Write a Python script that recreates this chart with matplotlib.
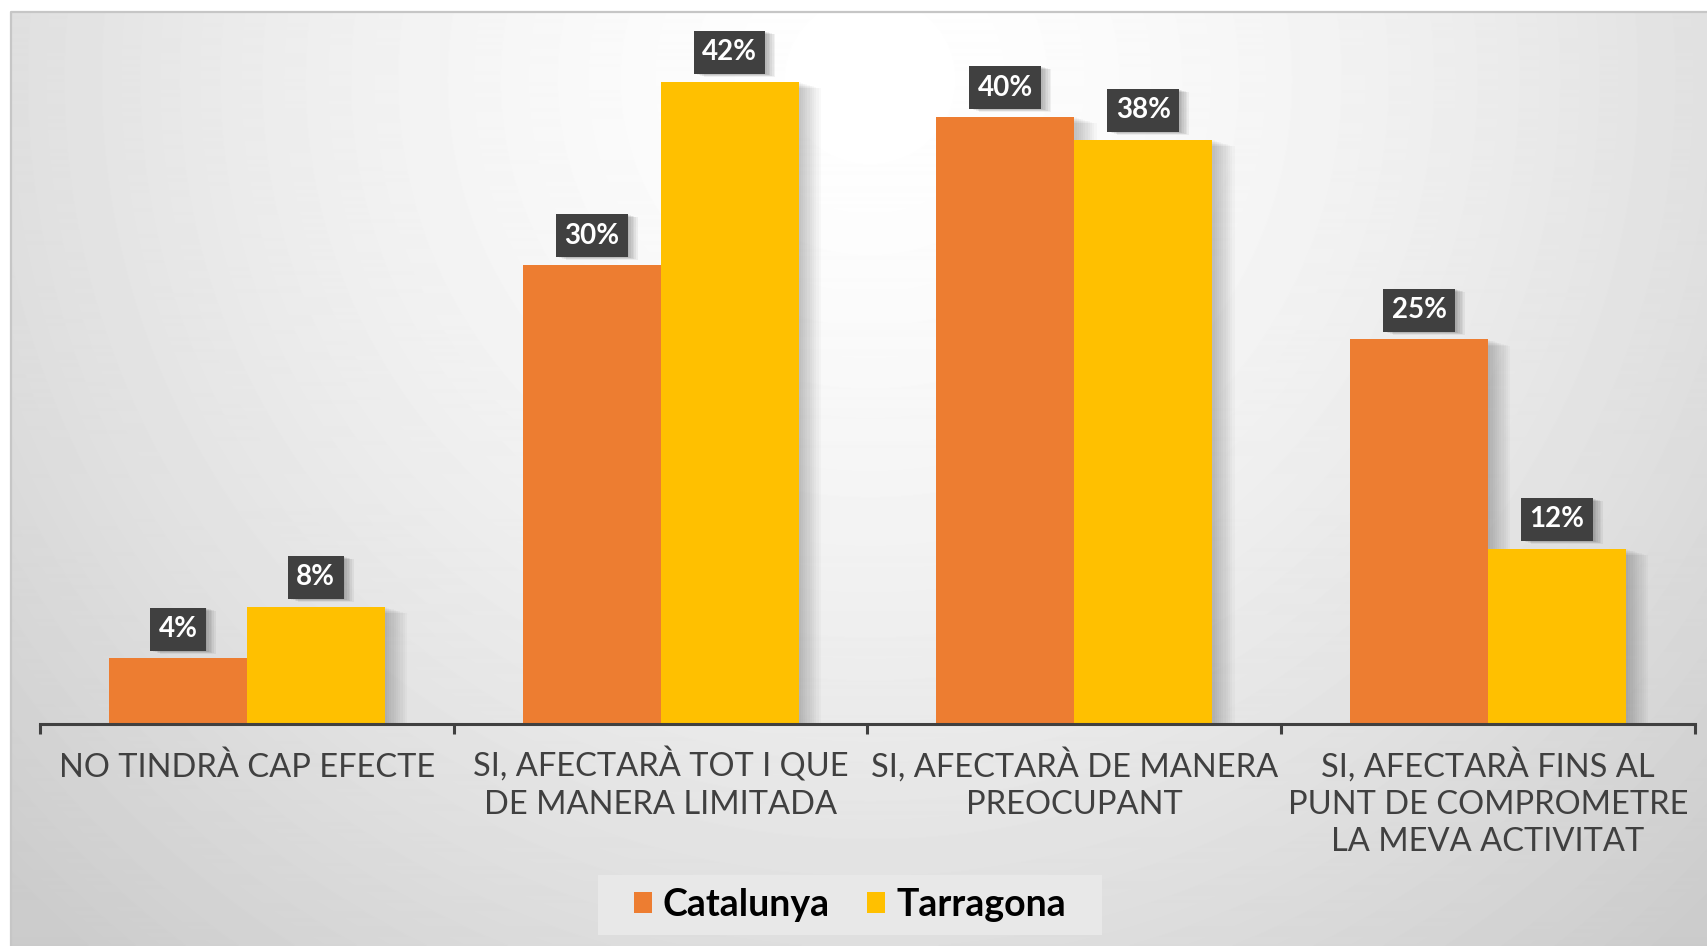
import numpy as np
import matplotlib
matplotlib.use("Agg")
import matplotlib.pyplot as plt
import matplotlib.patheffects as pe
import matplotlib.transforms as mtransforms
from matplotlib.patches import Patch, Rectangle
from matplotlib.lines import Line2D

categories = [
    "NO TINDRÀ CAP EFECTE",
    "SI, AFECTARÀ TOT I QUE\nDE MANERA LIMITADA",
    "SI, AFECTARÀ DE MANERA\nPREOCUPANT",
    "SI, AFECTARÀ FINS AL\nPUNT DE COMPROMETRE\nLA MEVA ACTIVITAT",
]
series_names = ["Catalunya", "Tarragona"]
catalunya = [4.2, 30.0, 39.7, 25.1]
tarragona = [7.6, 42.0, 38.2, 11.4]
catalunya_labels = ["4%", "30%", "40%", "25%"]
tarragona_labels = ["8%", "42%", "38%", "12%"]

colors = ["#ED7D31", "#FFC000"]
W, H = 1708, 946

plt.rcParams["font.family"] = ["Lato", "DejaVu Sans"]

fig = plt.figure(figsize=(W / 100, H / 100), dpi=100)

# background gradient + frame
bg = fig.add_axes([0, 0, 1, 1], zorder=-10)
yy, xx = np.mgrid[0:H, 0:W]
t = np.sqrt(((xx - 870) / 860.0) ** 2 + ((yy - 80) / 850.0) ** 2)
shade = np.clip(1 - 0.125 * t ** 1.5, 0.80, 1.0)
shade[:12, :] = 1.0
shade[:, :11] = 1.0
bg.imshow(shade, cmap="gray", vmin=0, vmax=1, extent=[0, W, H, 0], aspect="auto")
bg.add_line(Line2D([11, 11, W], [H, 12, 12], color="#c6c6c6", lw=1.6))
bg.set_xlim(0, W)
bg.set_ylim(H, 0)
bg.axis("off")

ax = fig.add_axes([40 / W, (H - 722.5) / H, 1655 / W, 686.7 / H])
ax.patch.set_alpha(0)

x = np.arange(len(categories))
bw = 1 / 3


def shadows(n=10, step=1.6, a=0.022):
    return [pe.SimplePatchShadow(offset=(step * (i + 1), -step * 0.3 * (i + 1)),
                                 shadow_rgbFace="k", alpha=a) for i in range(n)] + [pe.Normal()]


for vals, labs, off, col in [(catalunya, catalunya_labels, -bw / 2, colors[0]),
                             (tarragona, tarragona_labels, bw / 2, colors[1])]:
    bars = ax.bar(x + off, vals, width=bw, color=col, zorder=2)
    for b in bars:
        b.set_path_effects(shadows())
    for xi, v, lab in zip(x + off, vals, labs):
        txt = ax.annotate(lab, (xi, v), xytext=(0, 21), textcoords="offset points",
                          ha="center", va="center", fontsize=20, fontweight="bold",
                          color="white", zorder=5,
                          bbox=dict(boxstyle="square,pad=0.3", facecolor="#404040",
                                    edgecolor="none"))
        txt.get_bbox_patch().set_path_effects(shadows(6, 1.2, 0.05))

ax.set_xlim(-0.5, 3.5)
ax.set_ylim(0, 45)
for s in ["left", "right", "top"]:
    ax.spines[s].set_visible(False)
ax.spines["bottom"].set_color("#404040")
ax.spines["bottom"].set_linewidth(2.2)
ax.spines["bottom"].set_position(("outward", 1))
ax.set_yticks([])
ax.set_xticks(x)
ax.set_xticklabels(categories, fontsize=23.5, fontweight="normal", color="#404040",
                   linespacing=1.3)
ax.set_xticks(np.arange(-0.5, 4, 1), minor=True)
ax.tick_params(axis="x", which="major", length=0, pad=17)
ax.tick_params(axis="x", which="minor", length=7, width=2.2, color="#404040")

# single-line label sits a little lower than in the multi-line layout
for lbl in ax.get_xticklabels():
    if "\n" not in lbl.get_text():
        lbl.set_transform(lbl.get_transform() +
                          mtransforms.ScaledTranslation(0, -5 / 100, fig.dpi_scale_trans))

# legend
bg.add_patch(Rectangle((598, 875), 504, 60, facecolor="#e8e8e8", edgecolor="none"))
handles = [Patch(facecolor=c, edgecolor="none") for c in colors]
leg = fig.legend(handles, series_names, loc="center", bbox_to_anchor=(850 / W, (H - 905) / H),
                 ncol=2, frameon=False, prop=dict(size=27, weight="bold"),
                 handlelength=0.48, handleheight=0.48, handletextpad=0.3,
                 columnspacing=1.0, borderpad=0.2)

fig.savefig("out.png", dpi=100)
